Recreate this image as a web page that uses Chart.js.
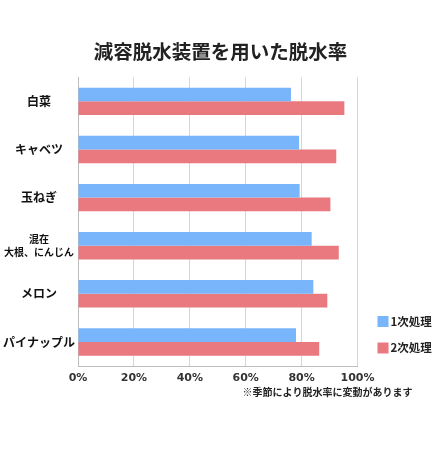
<!DOCTYPE html>
<html>
<head>
<meta charset="utf-8">
<script src="https://cdn.jsdelivr.net/npm/chart.js@4.4.0/dist/chart.umd.min.js"></script>
<style>
  html, body { margin: 0; padding: 0; background: #fff; }
  #wrap { width: 441px; height: 452px; position: relative; }
</style>
</head>
<body>
<div id="wrap"><canvas id="c"></canvas></div>
<script>
// ------- Datos -------
const categories = ['白菜', 'キャベツ', '玉ねぎ', ['混在', '大根、にんじん'], 'メロン', 'パイナップル'];
const seriesNames = ['1次処理', '2次処理'];
const firstPass = [76.2, 79.1, 79.3, 83.6, 84.2, 78.0];
const secondPass = [95.3, 92.4, 90.3, 93.3, 89.2, 86.3];
const xTicks = [0, 20, 40, 60, 80, 100];
const titleText = '減容脱水装置を用いた脱水率';
const noteText = '※季節により脱水率に変動があります';

const JP = '"Noto Sans CJK JP", "Noto Sans", sans-serif';
const colors = ['#79b5fa', '#e9797f'];

// leyenda + nota al pie dibujadas a mano
const extras = {
    id: 'extras',
    afterDraw(chart) {
        const { ctx, chartArea } = chart;
        ctx.save();
        ctx.textBaseline = 'middle';
        ctx.font = 'bold 11.5px ' + JP;
        chart.data.datasets.forEach((ds, i) => {
            const x = chartArea.right + 20;
            const y = chartArea.bottom - 44.5 + i * 26.5;
            ctx.fillStyle = ds.backgroundColor;
            ctx.fillRect(x, y - 5.5, 11, 11);
            ctx.fillStyle = '#222';
            ctx.textAlign = 'left';
            ctx.fillText(ds.label, x + 13, y);
        });
        ctx.font = 'bold 10px ' + JP;
        ctx.textAlign = 'right';
        ctx.fillStyle = '#222';
        ctx.fillText(noteText, chartArea.right + 55, chartArea.bottom + 26);
        ctx.restore();
    }
};

new Chart(document.getElementById('c'), {
    type: 'bar',
    data: {
        labels: categories,
        datasets: [
            { label: seriesNames[0], data: firstPass, backgroundColor: colors[0] },
            { label: seriesNames[1], data: secondPass, backgroundColor: colors[1] }
        ]
    },
    options: {
        indexAxis: 'y',
        responsive: true,
        maintainAspectRatio: false,
        animation: false,
        categoryPercentage: 0.57,
        barPercentage: 1.0,
        layout: { padding: { left: 0, right: 0, top: 0, bottom: 60.8 } },
        plugins: {
            legend: { display: false },
            tooltip: { enabled: false },
            title: {
                display: true,
                text: titleText,
                color: '#222',
                font: { family: JP, size: 19.5, weight: 'bold', lineHeight: 1.2 },
                padding: { top: 40.3, bottom: 13.6 }
            }
        },
        scales: {
            x: {
                min: 0,
                max: 100,
                afterBuildTicks: (s) => { s.ticks = xTicks.map(v => ({ value: v })); },
                grid: { color: '#d6d6d6', drawTicks: false },
                border: { color: '#bdbdbd' },
                ticks: {
                    padding: 6,
                    color: '#333',
                    font: { family: '"DejaVu Sans", sans-serif', size: 11, weight: 'bold' },
                    callback: v => v + '%'
                }
            },
            y: {
                grid: { display: false, drawTicks: false },
                border: { color: '#bdbdbd' },
                ticks: {
                    padding: 3,
                    crossAlign: 'center',
                    color: '#111',
                    font: (c) => Array.isArray(categories[c.index])
                        ? { family: JP, size: 10, weight: 'bold', lineHeight: 1.27 }
                        : { family: JP, size: 12, weight: 'bold' }
                }
            },
            // hueco a la derecha para la leyenda
            side: {
                type: 'linear',
                position: 'right',
                grid: { display: false, drawTicks: false },
                border: { display: false },
                ticks: { display: false },
                afterFit: (s) => { s.width = 83.5; }
            }
        }
    },
    plugins: [extras]
});
</script>
</body>
</html>
